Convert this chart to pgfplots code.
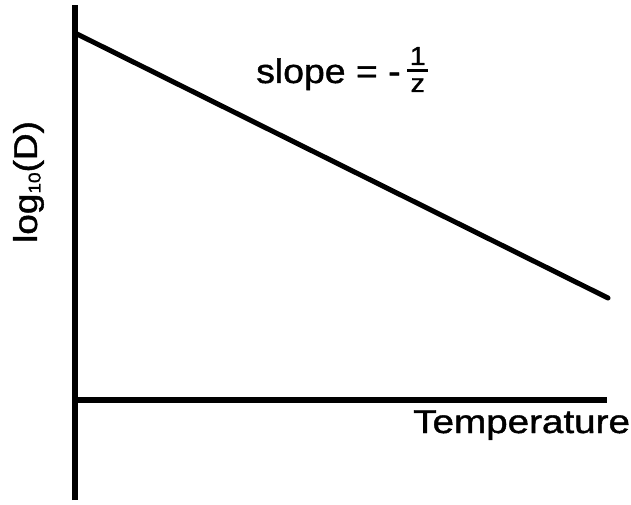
\documentclass[border=0pt]{standalone}
\usepackage{pgfplots}
\pgfplotsset{compat=1.18}
\usepackage{fontspec}
\setmainfont{Liberation Sans}[FakeBold=1.2]
% fraction 1/z set in the text font
\newcommand{\onez}{{\fontsize{26}{26}\selectfont
    \rlap{\raisebox{-9pt}{\makebox[19pt]{z}}}%
    \rlap{\raisebox{10.5pt}{\rule{19pt}{3.5pt}}}%
    \raisebox{18pt}{\makebox[19pt]{1}}}}
\begin{document}
\begin{tikzpicture}
\begin{axis}[
    x=1pt, y=1pt,
    xmin=0, xmax=532, ymin=-100, ymax=395,
    axis lines=middle,
    every inner x axis line/.append style={-},
    every inner y axis line/.append style={-},
    axis line style={line width=5.5pt, black},
    ticks=none,
    clip=false,
]
% page frame in pixel units of the reference
\path (axis cs:-75,-104) rectangle (axis cs:556,400);

\addplot[black, line width=5pt, line cap=round] coordinates {(0,367) (533,102)};

\node[anchor=base west, inner sep=0pt, xscale=1.1, font=\fontsize{34}{40}\selectfont]
    at (axis cs:181,317) {slope = -\hspace{6pt}\onez};
\node[anchor=base west, inner sep=0pt, xscale=1.17, font=\fontsize{33}{40}\selectfont]
    at (axis cs:338,-33) {Temperature};
\node[anchor=base, inner sep=0pt, rotate=90, xscale=1.12, font=\fontsize{33}{40}\selectfont]
    at (axis cs:-38,218) {log\raisebox{-0.2ex}{\fontsize{17}{17}\selectfont 10}(D)};
\end{axis}
\end{tikzpicture}
\end{document}
